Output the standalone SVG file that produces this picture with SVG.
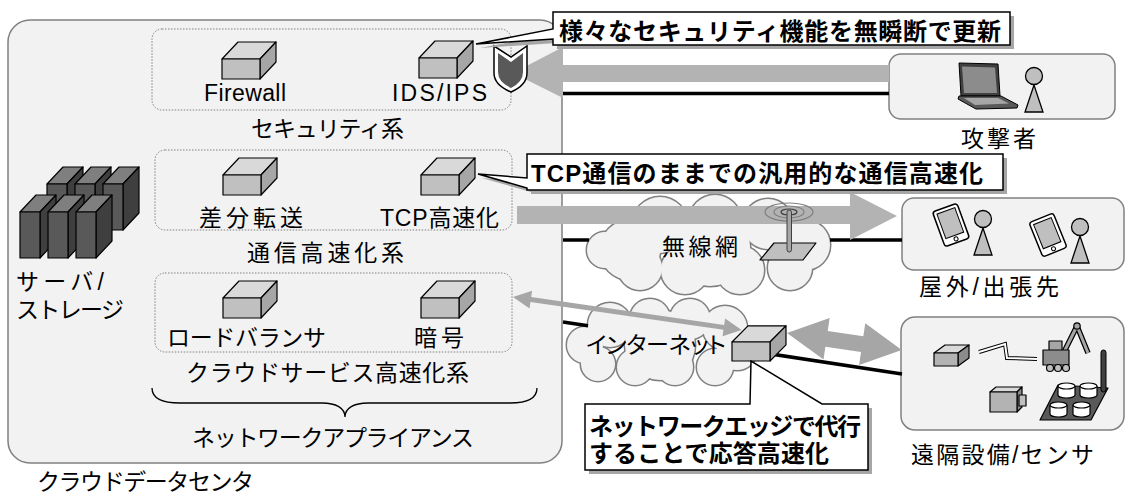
<svg xmlns="http://www.w3.org/2000/svg" width="1126" height="496" viewBox="0 0 1126 496">
<style>
.t{font-family:"Liberation Sans","Noto Sans CJK JP",sans-serif;font-size:23px;fill:#000}
.p{font-feature-settings:"palt"}
.b{font-weight:bold;font-size:24px}
.dc{fill:#f2f2f2;stroke:#808080;stroke-width:1.5}
.grp{fill:none;stroke:#808080;stroke-width:1;stroke-dasharray:1.5 1.5}
.ep{fill:#f2f2f2;stroke:#808080;stroke-width:1.5}
.ol{stroke:#000;stroke-width:1.2;stroke-linejoin:round}
.call{fill:#fff;stroke:#000;stroke-width:1.5;stroke-linejoin:miter}
.shd{fill:#a6a6a6}
.wire{stroke:#000;stroke-width:3.5;fill:none}
.flow{fill:#b3b3b3}
.cs{fill:none;stroke:#808080;stroke-width:3}
.cf{fill:#f2f2f2;stroke:none}
.pp{fill:#bfbfbf;stroke:#000;stroke-width:1.3}
</style>
<defs>
  <!-- generic network appliance: front, top and side faces -->
  <g id="appl" class="ol">
    <path d="M0,0 L16,-17 H54 L38,0 Z" fill="#d9d9d9"/>
    <path d="M38,0 L54,-17 V3 L38,20 Z" fill="#a6a6a6"/>
    <rect width="38" height="20" fill="#c0c0c0"/>
  </g>
  <!-- server rack unit -->
  <g id="srv" class="ol">
    <path d="M0,0 L16,-17 H36 L20,0 Z" fill="#7f7f7f"/>
    <path d="M20,0 L36,-17 V29 L20,46 Z" fill="#3f3f3f"/>
    <rect width="20" height="46" fill="#595959"/>
  </g>
  <g id="person">
    <path d="M0,9 L-9,36 H9 Z" class="pp"/>
    <circle r="8.5" class="pp"/>
  </g>
  <g id="phone">
    <rect x="-13" y="-18.5" width="26" height="37" rx="3" fill="#fff" stroke="#000" stroke-width="1.5"/>
    <rect x="-9.5" y="-15" width="19" height="26" fill="#bfbfbf" stroke="#000" stroke-width="1"/>
    <circle cx="0" cy="14.8" r="2" fill="#fff" stroke="#000" stroke-width="1"/>
  </g>
  <g id="cyl">
    <path d="M0,3 V12 A8.5,3 0 0 0 17,12 V3" fill="#fff" stroke="#000" stroke-width="1.2"/>
    <ellipse cx="8.5" cy="3" rx="8.5" ry="3" fill="#fff" stroke="#000" stroke-width="1.2"/>
  </g>
  <!-- cloud outlines built from overlapping circles -->
  <g id="cloudW">
    <circle cx="605" cy="250" r="18"/>
    <circle cx="630" cy="250" r="30"/>
    <circle cx="660" cy="225" r="28"/>
    <circle cx="715" cy="221" r="26"/>
    <circle cx="768" cy="224" r="25"/>
    <circle cx="805" cy="245" r="25"/>
    <circle cx="790" cy="268" r="22"/>
    <circle cx="740" cy="270" r="24"/>
    <circle cx="685" cy="270" r="24"/>
    <circle cx="640" cy="268" r="22"/>
    <circle cx="710" cy="246" r="40"/>
  </g>
  <g id="cloudI">
    <circle cx="585" cy="345" r="18"/>
    <circle cx="610" cy="325" r="22"/>
    <circle cx="650" cy="319" r="20"/>
    <circle cx="690" cy="319" r="20"/>
    <circle cx="725" cy="328" r="22"/>
    <circle cx="737" cy="350" r="20"/>
    <circle cx="715" cy="367" r="18"/>
    <circle cx="675" cy="367" r="18"/>
    <circle cx="635" cy="367" r="18"/>
    <circle cx="598" cy="364" r="17"/>
    <circle cx="660" cy="345" r="35"/>
  </g>
</defs>

<!-- cloud data center -->
<g id="datacenter">
  <rect class="dc" x="8" y="20" width="554" height="443" rx="22"/>
  <text class="t" x="37" y="490" font-size="22" textLength="217">クラウドデータセンタ</text>
</g>

<g id="servers">
  <use href="#srv" x="47" y="184"/>
  <use href="#srv" x="75" y="184"/>
  <use href="#srv" x="103" y="184"/>
  <use href="#srv" x="20" y="212"/>
  <use href="#srv" x="48" y="212"/>
  <use href="#srv" x="76" y="212"/>
  <text class="t"><tspan x="16" y="290" textLength="88">サーバ/</tspan><tspan x="16" y="318" textLength="108">ストレージ</tspan></text>
</g>

<g id="security">
  <rect class="grp" x="152" y="29" width="359" height="81" rx="10"/>
  <use href="#appl" x="222" y="59"/>
  <use href="#appl" x="419" y="58"/>
  <text class="t" x="204" y="101" textLength="82">Firewall</text>
  <text class="t" x="392" y="101" textLength="95">IDS/IPS</text>
  <text class="t" x="251" y="137" textLength="153">セキュリティ系</text>
</g>

<g id="acceleration">
  <rect class="grp" x="155" y="150" width="357" height="80" rx="10"/>
  <use href="#appl" x="223" y="175"/>
  <use href="#appl" x="421" y="175"/>
  <text class="t" x="199" y="226" textLength="104">差分転送</text>
  <text class="t" x="380" y="226" textLength="119">TCP高速化</text>
  <text class="t" x="247" y="261" textLength="157">通信高速化系</text>
</g>

<g id="cloud-service">
  <rect class="grp" x="155" y="273" width="357" height="79" rx="10"/>
  <use href="#appl" x="223" y="298"/>
  <use href="#appl" x="421" y="298"/>
  <text class="t" x="167" y="346" textLength="159">ロードバランサ</text>
  <text class="t" x="414" y="346" textLength="50">暗号</text>
  <text class="t" x="186" y="381" textLength="283">クラウドサービス高速化系</text>
</g>

<g id="appliances">
  <path d="M152,388 C152,398 162,403 180,403 H322 C336,403 345,408 345,417 C345,408 354,403 368,403 H510 C528,403 537,398 537,388" fill="none" stroke="#000" stroke-width="1.3"/>
  <text class="t" x="192" y="446" textLength="282">ネットワークアプライアンス</text>
</g>

<g id="wireless">
  <use href="#cloudW" class="cs"/>
  <use href="#cloudW" class="cf"/>
  <text class="t" x="662" y="255" textLength="76">無線網</text>
</g>

<g id="internet">
  <use href="#cloudI" class="cs"/>
  <use href="#cloudI" class="cf"/>
  <text class="t p" x="586" y="353" textLength="140">インターネット</text>
</g>

<g id="attacker">
  <rect class="ep" x="889" y="54" width="226" height="65" rx="12"/>
  <path d="M959,63 L998,64 L1000,96 L961,96 Z" fill="#404040" stroke="#000" stroke-width="1"/>
  <path d="M962,66.5 L995,67.5 L997,93 L964,93 Z" fill="#8c8c8c"/>
  <path d="M959,96 L1001,96 L1018,105 L1017,108 L976,109 L958,99 Z" fill="#595959" stroke="#000" stroke-width="1"/>
  <path d="M964,98 L998,98 L1009,103.5 L975,105 Z" fill="#a6a6a6"/>
  <use href="#person" x="1034" y="76"/>
  <text class="t" x="961" y="147" textLength="75">攻撃者</text>
</g>

<g id="mobile">
  <rect class="ep" x="902" y="198" width="222" height="72" rx="12"/>
  <use href="#phone" transform="translate(951,225) rotate(-20)"/>
  <use href="#person" x="983" y="219"/>
  <use href="#phone" transform="translate(1048,235) rotate(-22)"/>
  <use href="#person" x="1080" y="227"/>
  <text class="t" x="919" y="295" textLength="140">屋外/出張先</text>
</g>

<g id="remote">
  <rect class="ep" x="901" y="317" width="223" height="113" rx="14"/>
  <!-- sensor box -->
  <g class="ol">
    <path d="M934,353 L945,345 H969 L958,353 Z" fill="#d9d9d9"/>
    <path d="M958,353 L969,345 V358 L958,366 Z" fill="#8c8c8c"/>
    <rect x="934" y="353" width="24" height="13" fill="#b3b3b3"/>
  </g>
  <!-- radio link -->
  <polyline points="979,352 1005,344 1007,358 1037,359" fill="none" stroke="#000" stroke-width="4" stroke-linejoin="miter"/>
  <polyline points="979,352 1005,344 1007,358 1037,359" fill="none" stroke="#fff" stroke-width="2" stroke-linejoin="miter"/>
  <!-- excavator -->
  <polyline points="1064,352 1077,326 1088,353" fill="none" stroke="#000" stroke-width="5.5" stroke-linejoin="round"/>
  <polyline points="1064,352 1077,326 1088,353" fill="none" stroke="#a6a6a6" stroke-width="3" stroke-linejoin="round"/>
  <circle cx="1077" cy="326" r="3.2" fill="#a6a6a6" stroke="#000" stroke-width="1.2"/>
  <rect x="1049" y="341" width="13" height="10" fill="#a6a6a6" class="ol"/>
  <rect x="1043" y="350" width="26" height="15" fill="#8c8c8c" class="ol"/>
  <circle cx="1050" cy="368" r="3.5" fill="#bfbfbf" class="ol"/>
  <circle cx="1058" cy="368" r="3.5" fill="#bfbfbf" class="ol"/>
  <circle cx="1066" cy="368" r="3.5" fill="#bfbfbf" class="ol"/>
  <!-- plant with tanks -->
  <path d="M1040,420 L1058,385 L1108,388 L1091,420 Z" fill="#595959" class="ol"/>
  <rect x="1101" y="350" width="5" height="42" rx="2.5" fill="#404040" stroke="#000" stroke-width="1"/>
  <use href="#cyl" x="1058" y="383"/>
  <use href="#cyl" x="1080" y="383"/>
  <use href="#cyl" x="1050" y="402"/>
  <use href="#cyl" x="1073" y="402"/>
  <!-- camera -->
  <g class="ol">
    <path d="M990,392 L996,387 H1022 L1017,392 Z" fill="#d9d9d9"/>
    <path d="M1017,392 L1022,387 V407 L1017,412 Z" fill="#8c8c8c"/>
    <rect x="990" y="392" width="27" height="20" fill="#b3b3b3"/>
    <rect x="1019" y="395" width="7" height="11" fill="#bfbfbf"/>
  </g>
  <text class="t" x="911" y="463" textLength="183">遠隔設備/センサ</text>
</g>

<g id="connectors">
  <line class="wire" x1="563" y1="93.5" x2="889" y2="93.5"/>
  <line class="wire" x1="563" y1="240" x2="589" y2="240"/>
  <line class="wire" x1="830" y1="240" x2="902" y2="240"/>
  <line class="wire" x1="563" y1="322" x2="588" y2="325.8"/>
  <line class="wire" x1="760" y1="352.3" x2="902" y2="374"/>
  <polygon class="flow" points="889,65 563,65 563,47 513,73 563,98 563,82 889,82"/>
  <polygon class="flow" points="517,206 850,206 850,192 897,216 850,240 850,224 517,224"/>
  <polygon fill="#a6a6a6" transform="translate(513,297) rotate(8.2)" points="0,0 18,-9 18,-2.5 213,-2.5 213,-9 231,0 213,9 213,2.5 18,2.5 18,9"/>
  <polygon fill="#a6a6a6" transform="translate(787,333) rotate(8.4)" points="0,0 40,-21 40,-8 76,-8 76,-21 116,0 76,21 76,8 40,8 40,21"/>
</g>

<g id="shield">
  <path d="M494,46 L511,57 L527,46 V73 Q527,85 511,92 Q494,85 494,73 Z" fill="#fff" stroke="#000" stroke-width="1.5"/>
  <path d="M498,53 L511,62 L523,53 V72 Q523,82 511,88 Q498,82 498,72 Z" fill="#595959"/>
</g>

<g id="antenna">
  <path d="M760,260 L774,243 H816 L803,260 Z" fill="#bfbfbf" class="ol"/>
  <ellipse cx="789" cy="212" rx="24" ry="9" fill="none" stroke="#808080" stroke-width="1.2"/>
  <ellipse cx="789" cy="212" rx="15" ry="6" fill="none" stroke="#808080" stroke-width="1.2"/>
  <ellipse cx="789" cy="212" rx="8" ry="3" fill="none" stroke="#404040" stroke-width="1.2"/>
  <rect x="787" y="210" width="4.5" height="42" rx="2.2" fill="#a6a6a6" stroke="#404040" stroke-width="1"/>
</g>

<g id="edge-device">
  <use href="#appl" transform="translate(732,342) scale(1,0.95)"/>
</g>

<g id="note-security">
  <path class="shd" transform="translate(4,4)" d="M553,12 H1010 V45 H553 V39 L476,44 L553,29 Z"/>
  <path class="call" d="M553,12 H1010 V45 H553 V39 L476,44 L553,29 Z"/>
  <text class="t b" x="559" y="40" textLength="442">様々なセキュリティ機能を無瞬断で更新</text>
</g>

<g id="note-tcp">
  <path class="shd" transform="translate(4,4)" d="M527,154 H1003 V190 H527 V188 L478,174 L527,178 Z"/>
  <path class="call" d="M527,154 H1003 V190 H527 V188 L478,174 L527,178 Z"/>
  <text class="t b" x="531" y="182" textLength="452">TCP通信のままでの汎用的な通信高速化</text>
</g>

<g id="note-edge">
  <path class="shd" transform="translate(4,4)" d="M585,404 H868 V470 H585 Z"/>
  <path class="call" d="M585,404 H750 L751,361 L822,404 H868 V470 H585 Z"/>
  <text class="t b" font-size="23"><tspan x="589" y="435" textLength="272">ネットワークエッジで代行</tspan><tspan x="589" y="462" textLength="240">することで応答高速化</tspan></text>
</g>
</svg>
